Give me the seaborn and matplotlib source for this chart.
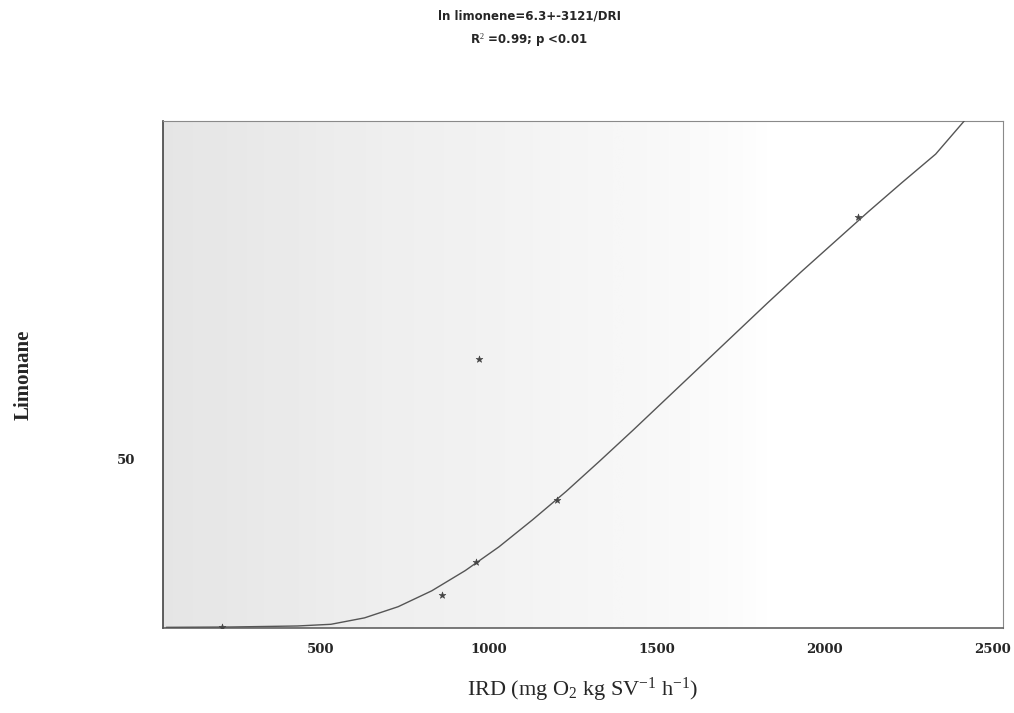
import numpy as np
import pandas as pd
import matplotlib
matplotlib.use('Agg')
import matplotlib.pyplot as plt
import matplotlib.transforms as mtransforms
import seaborn as sns

# --- data ---
ird_obs = [176, 830, 932, 1173, 940, 2068]
limonene_obs = [0.3, 9.8, 19.6, 37.8, 79.5, 121.7]

# fitted curve, points
ird_fit = [10, 200, 400, 500, 600, 700, 800, 900, 1000, 1100, 1200, 1300,
           1400, 1500, 1600, 1700, 1800, 1900, 2000, 2100, 2200, 2300, 2385]
limonene_fit = [0.2, 0.3, 0.6, 1.1, 3.0, 6.3, 11.0, 17.0, 24.0, 32.0, 40.4, 49.4,
                58.6, 68.0, 77.4, 86.8, 96.2, 105.4, 114.3, 123.2, 131.8, 140.2, 150.0]

x_ticks = [500, 1000, 1500, 2000, 2500]
y_ticks = [0, 25, 50, 75, 100, 125, 150]
y_tick_labels = ['', '', '50', '', '', '', '']

df_obs = pd.DataFrame({'IRD': ird_obs, 'Limonene': limonene_obs})
df_fit = pd.DataFrame({'IRD': ird_fit, 'Limonene': limonene_fit})

sns.set_style('white')
plt.rcParams['mathtext.fontset'] = 'custom'
plt.rcParams['mathtext.rm'] = 'Liberation Serif'
plt.rcParams['mathtext.it'] = 'Liberation Serif:italic'
plt.rcParams['mathtext.bf'] = 'Liberation Serif:bold'

fig = plt.figure(figsize=(10.14, 7.13), dpi=100)
ax = fig.add_axes([0.1607, 0.1192, 0.8283, 0.7111])

# stippled background fading out to the right
grad = np.linspace(0, 1, 400)
shade = np.clip(1 - grad / 0.72, 0, 1) ** 0.7
img = np.tile(shade, (10, 1))
ax.imshow(img, extent=[0, 2500, 0, 150], aspect='auto', cmap='Greys',
          vmin=0, vmax=5.5, zorder=0, interpolation='bilinear')

sns.lineplot(data=df_fit, x='IRD', y='Limonene', ax=ax, color='#555555',
             linewidth=1.0, zorder=3)
sns.scatterplot(data=df_obs, x='IRD', y='Limonene', ax=ax, marker='*',
                s=26, color='#444444', edgecolor='#444444', zorder=4)

ax.set_xlim(0, 2500)
ax.set_ylim(0, 150)
ax.set_xticks(x_ticks)
ax.set_xticklabels([str(t) for t in x_ticks], fontsize=9.5, fontweight='bold',
                   family='DejaVu Serif')
ax.set_yticks(y_ticks)
ax.set_yticklabels(y_tick_labels, fontsize=9.5, fontweight='bold',
                   family='DejaVu Serif')
ax.tick_params(axis='both', direction='out', length=4, width=0.6,
               color='#999999', pad=7)
ax.tick_params(axis='y', pad=16)

# labels sit a little left of their ticks, as in the scan
shift = mtransforms.ScaledTranslation(-10 / 100, 0, fig.dpi_scale_trans)
for lab in ax.get_xticklabels():
    lab.set_transform(lab.get_transform() + shift)

for side, sp in ax.spines.items():
    sp.set_color('#8a8a8a')
    sp.set_linewidth(0.8)
ax.spines['left'].set_color('#444444')
ax.spines['left'].set_linewidth(1.2)
ax.spines['bottom'].set_color('#555555')
ax.spines['bottom'].set_linewidth(1.1)

ax.set_xlabel('IRD (mg O$_2$ kg SV$^{-1}$ h$^{-1}$)', fontsize=16,
              family='Liberation Serif', labelpad=14)
ax.set_ylabel('Limonane', fontsize=15, family='Liberation Serif',
              fontweight='bold', labelpad=60)

fig.text(0.522, 0.978, 'ln limonene=6.3+-3121/DRI', ha='center', va='center',
         fontsize=8.5, fontweight='bold', family='Liberation Sans Narrow')
fig.text(0.522, 0.943, 'R$^2$ =0.99; p <0.01', ha='center', va='center',
         fontsize=8.5, fontweight='bold', family='Liberation Sans Narrow')

plt.savefig('out.png', dpi=100)
